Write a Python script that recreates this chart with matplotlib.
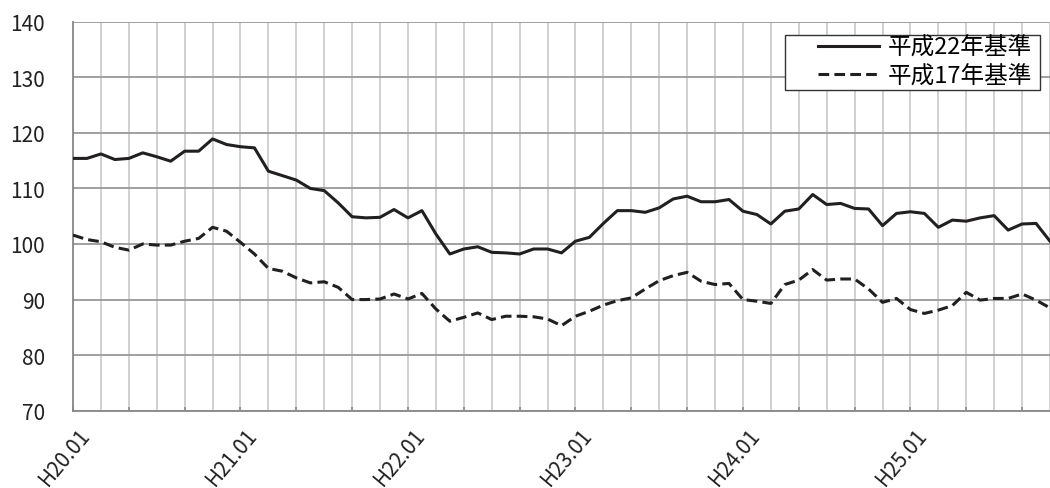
import numpy as np
import matplotlib as mpl
mpl.use('Agg')
import matplotlib.pyplot as plt
import matplotlib.transforms as mtransforms
from matplotlib.patches import Rectangle

plt.rcParams['font.family'] = ['Noto Sans CJK JP', 'DejaVu Sans']

# monthly values, H20.01 onwards
h22_base = [115.4, 115.4, 116.2, 115.2, 115.4, 116.4, 115.7, 114.9, 116.7, 116.7,
            118.9, 117.9, 117.5, 117.3, 113.1, 112.3, 111.5, 110.0, 109.6, 107.4,
            104.9, 104.7, 104.8, 106.2, 104.7, 106.0, 101.8, 98.2, 99.1, 99.5,
            98.5, 98.4, 98.2, 99.1, 99.1, 98.4, 100.5, 101.2, 103.7, 106.0,
            106.0, 105.7, 106.5, 108.1, 108.6, 107.6, 107.6, 108.0, 105.9, 105.3,
            103.6, 105.9, 106.3, 108.9, 107.1, 107.3, 106.4, 106.3, 103.3, 105.5,
            105.8, 105.5, 103.0, 104.3, 104.1, 104.7, 105.1, 102.5, 103.6, 103.7,
            100.5]
h17_base = [101.6, 100.8, 100.4, 99.4, 98.9, 100.0, 99.8, 99.8, 100.5, 101.0,
            103.0, 102.3, 100.3, 98.2, 95.6, 95.1, 93.9, 93.0, 93.2, 92.2,
            90.0, 90.0, 90.1, 91.0, 90.1, 91.1, 88.3, 86.1, 86.8, 87.6,
            86.4, 87.0, 87.0, 86.9, 86.5, 85.3, 87.0, 87.9, 89.0, 89.8,
            90.3, 91.9, 93.4, 94.3, 94.9, 93.3, 92.7, 92.9, 90.0, 89.7,
            89.3, 92.7, 93.5, 95.4, 93.5, 93.7, 93.7, 91.9, 89.5, 90.2,
            88.2, 87.5, 88.1, 88.9, 91.3, 89.9, 90.2, 90.2, 91.0, 89.9,
            88.5]
year_labels = ['H20.01', 'H21.01', 'H22.01', 'H23.01', 'H24.01', 'H25.01']
series_names = ['平成22年基準', '平成17年基準']

months = np.arange(len(h22_base))

fig = plt.figure(figsize=(10.5, 4.89), dpi=100)
ax = fig.add_axes([73/1050, 1 - 411.7/489, 1 - 73/1050, (411.7 - 22.7)/489])

line_col = '#231f20'
ax.plot(months, h22_base, color=line_col, lw=2.2, label=series_names[0], zorder=3)
ax.plot(months, h17_base, color=line_col, lw=2.2, ls=(0, (3.5, 1.7)),
        label=series_names[1], zorder=3)

ax.set_xlim(0, 69.49)
ax.set_ylim(70, 140)
ax.set_yticks(np.arange(70, 141, 10))

# ticks every 4 months, labels every year, grid every 2 months
ax.set_xticks(np.arange(0, 72, 4))
ax.set_xticks(np.arange(0, 72, 2), minor=True)
labs = []
for m in np.arange(0, 72, 4):
    labs.append(year_labels[m // 12] if m % 12 == 0 else '')
ax.set_xticklabels(labs, rotation=50, ha='right', va='top', rotation_mode='anchor')

ax.grid(axis='x', which='both', color='#c8c8c8', lw=1.2, zorder=0)
ax.grid(axis='y', which='major', color='#999999', lw=1.3, zorder=0)
ax.tick_params(axis='x', which='major', direction='in', length=3, width=1.2,
               color='#888888', labelsize=15, pad=9, labelcolor='#222222')
ax.tick_params(axis='x', which='minor', length=0)
ax.tick_params(axis='y', length=0, labelsize=15, pad=20, labelcolor='#222222')

# nudge rotated labels a bit to the right, like the original
offset = mtransforms.ScaledTranslation(5/100, 0, fig.dpi_scale_trans)
for t in ax.get_xticklabels():
    t.set_transform(t.get_transform() + offset)

for s in ['top', 'right']:
    ax.spines[s].set_visible(False)
for s in ['left', 'bottom']:
    ax.spines[s].set_color('#888888')
    ax.spines[s].set_linewidth(1.3)

# legend box drawn separately so the padding matches
box = Rectangle((785/1050, 1 - 91/489), 255/1050, 55/489, transform=fig.transFigure,
                facecolor='white', edgecolor='#333333', lw=1.0, zorder=5)
fig.patches.append(box)
leg = fig.legend(loc='upper right', bbox_to_anchor=(1032/1050, 1 - 37/489),
                 fontsize=17, frameon=False, handlelength=2.6, borderaxespad=0,
                 borderpad=0, labelspacing=0.22, handletextpad=0.35)
leg.set_zorder(6)

plt.savefig('out.png', dpi=100)
